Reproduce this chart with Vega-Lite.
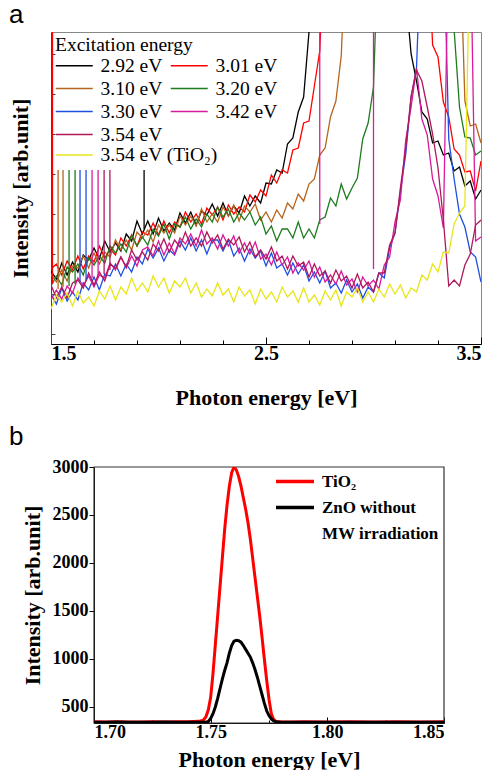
{
"$schema": "https://vega.github.io/schema/vega-lite/v6.json",
"background": "white",
"padding": {"left": 8, "top": 1, "right": 5, "bottom": 0},
"spacing": 15,
"resolve": {"scale": {"x": "independent", "y": "independent", "color": "independent", "stroke": "independent"}, "axis": {"x": "independent", "y": "independent"}, "legend": {"color": "independent", "stroke": "independent"}},
"config": {
  "view": {"stroke": null},
  "font": "Liberation Serif",
  "axis": {"grid": false, "domainColor": "#000", "tickColor": "#000", "labelColor": "#000", "titleColor": "#000", "labelFont": "Liberation Serif", "titleFont": "Liberation Serif", "labelFontWeight": "bold", "titleFontWeight": "bold"},
  "legend": {"labelColor": "#000", "titleColor": "#000"},
  "title": {"font": "Liberation Sans", "fontWeight": "normal", "fontSize": 26, "color": "#000", "anchor": "start", "frame": "group", "baseline": "alphabetic"}
},
"datasets": {
  "spec": [
    {"x":1.5,"k":73,"r":75,"o":70,"g":58,"b":50,"m":44,"c":59,"y":35},
    {"x":1.525,"k":65,"r":80,"o":62,"g":68,"b":40,"m":54,"c":46,"y":49},
    {"x":1.55,"k":81,"r":69,"o":74,"g":59,"b":56,"m":45,"c":57,"y":42},
    {"x":1.575,"k":69,"r":83,"o":63,"g":77,"b":43,"m":58,"c":46,"y":51},
    {"x":1.6,"k":82,"r":74,"o":78,"g":72,"b":52,"m":51,"c":61,"y":38},
    {"x":1.625,"k":72,"r":88,"o":76,"g":80,"b":44,"m":66,"c":64,"y":53},
    {"x":1.65,"k":89,"r":75,"o":88,"g":69,"b":61,"m":58,"c":56,"y":41},
    {"x":1.675,"k":84,"r":88,"o":76,"g":86,"b":54,"m":68,"c":71,"y":47},
    {"x":1.7,"k":96,"r":82,"o":91,"g":79,"b":67,"m":57,"c":59,"y":38},
    {"x":1.725,"k":85,"r":98,"o":80,"g":88,"b":54,"m":69,"c":72,"y":53},
    {"x":1.75,"k":103,"r":86,"o":92,"g":81,"b":70,"m":66,"c":63,"y":45},
    {"x":1.775,"k":92,"r":95,"o":87,"g":98,"b":68,"m":81,"c":80,"y":58},
    {"x":1.8,"k":101,"r":89,"o":104,"g":91,"b":80,"m":74,"c":76,"y":44},
    {"x":1.825,"k":93,"r":106,"o":94,"g":100,"b":68,"m":87,"c":87,"y":57},
    {"x":1.85,"k":110,"r":98,"o":104,"g":92,"b":80,"m":76,"c":77,"y":50},
    {"x":1.875,"k":103,"r":109,"o":94,"g":109,"b":72,"m":88,"c":94,"y":66},
    {"x":1.9,"k":123,"r":98,"o":112,"g":98,"b":87,"m":78,"c":84,"y":53},
    {"x":1.925,"k":110,"r":112,"o":106,"g":107,"b":80,"m":94,"c":92,"y":61},
    {"x":1.95,"k":123,"r":109,"o":114,"g":99,"b":95,"m":97,"c":84,"y":52},
    {"x":1.975,"k":110,"r":121,"o":102,"g":115,"b":86,"m":88,"c":100,"y":68},
    {"x":2.0,"k":126,"r":109,"o":119,"g":108,"b":96,"m":103,"c":93,"y":57},
    {"x":2.025,"k":113,"r":123,"o":111,"g":120,"b":83,"m":89,"c":105,"y":66},
    {"x":2.05,"k":121,"r":111,"o":119,"g":105,"b":94,"m":101,"c":92,"y":51},
    {"x":2.075,"k":114,"r":122,"o":111,"g":120,"b":89,"m":90,"c":104,"y":63},
    {"x":2.1,"k":131,"r":117,"o":128,"g":117,"b":103,"m":106,"c":97,"y":57},
    {"x":2.125,"k":121,"r":132,"o":119,"g":127,"b":94,"m":100,"c":112,"y":66},
    {"x":2.15,"k":132,"r":122,"o":128,"g":115,"b":106,"m":110,"c":98,"y":51},
    {"x":2.175,"k":119,"r":130,"o":118,"g":125,"b":93,"m":98,"c":106,"y":61},
    {"x":2.2,"k":133,"r":120,"o":135,"g":117,"b":104,"m":114,"c":98,"y":47},
    {"x":2.225,"k":129,"r":136,"o":122,"g":130,"b":90,"m":100,"c":112,"y":55},
    {"x":2.25,"k":140,"r":129,"o":130,"g":122,"b":104,"m":106,"c":101,"y":48},
    {"x":2.275,"k":128,"r":137,"o":122,"g":137,"b":104,"m":95,"c":109,"y":61},
    {"x":2.3,"k":141,"r":124,"o":137,"g":127,"b":93,"m":109,"c":95,"y":49},
    {"x":2.325,"k":128,"r":139,"o":128,"g":135,"b":104,"m":98,"c":105,"y":55},
    {"x":2.35,"k":138,"r":130,"o":139,"g":122,"b":88,"m":108,"c":99,"y":42},
    {"x":2.375,"k":131,"r":137,"o":123,"g":131,"b":96,"m":91,"c":107,"y":57},
    {"x":2.4,"k":148,"r":132,"o":138,"g":124,"b":83,"m":101,"c":92,"y":48},
    {"x":2.425,"k":138,"r":149,"o":132,"g":132,"b":95,"m":90,"c":102,"y":54},
    {"x":2.45,"k":148,"r":142,"o":140,"g":119,"b":86,"m":102,"c":87,"y":40},
    {"x":2.475,"k":141,"r":154,"o":124,"g":127,"b":93,"m":85,"c":94,"y":55},
    {"x":2.5,"k":161,"r":148,"o":132,"g":110,"b":78,"m":90,"c":85,"y":45},
    {"x":2.525,"k":160,"r":169,"o":122,"g":118,"b":91,"m":79,"c":97,"y":52},
    {"x":2.55,"k":174,"r":161,"o":134,"g":103,"b":76,"m":92,"c":83,"y":42},
    {"x":2.575,"k":171,"r":174,"o":126,"g":115,"b":80,"m":79,"c":88,"y":57},
    {"x":2.6,"k":200,"r":171,"o":141,"g":115,"b":69,"m":87,"c":75,"y":47},
    {"x":2.625,"k":206,"r":194,"o":135,"g":106,"b":81,"m":71,"c":88,"y":53},
    {"x":2.65,"k":232,"r":196,"o":150,"g":122,"b":70,"m":81,"c":78,"y":42},
    {"x":2.675,"k":247,"r":221,"o":143,"g":106,"b":79,"m":74,"c":82,"y":56},
    {"x":2.7,"k":312,"r":223,"o":160,"g":115,"b":63,"m":83,"c":67,"y":42},
    {"x":2.725,"k":420,"r":258,"o":165,"g":106,"b":72,"m":67,"c":80,"y":49},
    {"x":2.75,"k":420,"r":293,"o":189,"g":124,"b":61,"m":77,"c":68,"y":39},
    {"x":2.775,"k":420,"r":420,"o":196,"g":127,"b":73,"m":62,"c":73,"y":53},
    {"x":2.8,"k":420,"r":420,"o":227,"g":146,"b":56,"m":69,"c":61,"y":44},
    {"x":2.825,"k":420,"r":420,"o":243,"g":138,"b":61,"m":60,"c":74,"y":54},
    {"x":2.85,"k":420,"r":420,"o":288,"g":160,"b":51,"m":73,"c":63,"y":38},
    {"x":2.875,"k":420,"r":420,"o":420,"g":145,"b":64,"m":59,"c":68,"y":52},
    {"x":2.9,"k":420,"r":420,"o":420,"g":156,"b":52,"m":65,"c":56,"y":47},
    {"x":2.925,"k":420,"r":420,"o":420,"g":166,"b":60,"m":52,"c":70,"y":56},
    {"x":2.95,"k":420,"r":420,"o":420,"g":205,"b":46,"m":67,"c":56,"y":42},
    {"x":2.975,"k":420,"r":420,"o":420,"g":221,"b":57,"m":58,"c":62,"y":52},
    {"x":3.0,"k":420,"r":420,"o":420,"g":257,"b":52,"m":64,"c":52,"y":42},
    {"x":3.025,"k":420,"r":420,"o":420,"g":420,"b":71,"m":55,"c":71,"y":55},
    {"x":3.05,"k":420,"r":420,"o":420,"g":420,"b":66,"m":79,"c":71,"y":47},
    {"x":3.075,"k":420,"r":420,"o":420,"g":420,"b":96,"m":87,"c":99,"y":60},
    {"x":3.1,"k":420,"r":420,"o":420,"g":420,"b":111,"m":122,"c":111,"y":50},
    {"x":3.125,"k":420,"r":420,"o":420,"g":420,"b":152,"m":144,"c":156,"y":59},
    {"x":3.15,"k":350,"r":420,"o":420,"g":420,"b":190,"m":204,"c":196,"y":46},
    {"x":3.175,"k":290,"r":420,"o":420,"g":420,"b":247,"m":237,"c":248,"y":56},
    {"x":3.2,"k":263,"r":420,"o":420,"g":420,"b":276,"m":276,"c":274,"y":52},
    {"x":3.225,"k":232,"r":420,"o":420,"g":420,"b":420,"m":225,"c":263,"y":69},
    {"x":3.25,"k":225,"r":420,"o":420,"g":420,"b":420,"m":209,"c":237,"y":64},
    {"x":3.275,"k":201,"r":299,"o":420,"g":420,"b":420,"m":165,"c":210,"y":80},
    {"x":3.3,"k":203,"r":287,"o":420,"g":420,"b":420,"m":148,"c":176,"y":72},
    {"x":3.325,"k":189,"r":242,"o":420,"g":420,"b":420,"m":116,"c":124,"y":92},
    {"x":3.35,"k":191,"r":227,"o":420,"g":420,"b":205,"m":420,"c":58,"y":91},
    {"x":3.375,"k":173,"r":195,"o":420,"g":314,"b":165,"m":420,"c":64,"y":120},
    {"x":3.4,"k":177,"r":189,"o":420,"g":237,"b":130,"m":420,"c":58,"y":131},
    {"x":3.425,"k":158,"r":172,"o":243,"g":207,"b":117,"m":420,"c":79,"y":138},
    {"x":3.45,"k":163,"r":173,"o":218,"g":206,"b":92,"m":420,"c":90,"y":420},
    {"x":3.475,"k":145,"r":153,"o":220,"g":189,"b":87,"m":103,"c":119,"y":420},
    {"x":3.5,"k":154,"r":183,"o":201,"g":193,"b":62,"m":107,"c":124,"y":420}
  ],
  "sp": [
    {"s":"r","x":1.507,"lo":60,"hi":312},
    {"s":"o","x":1.533,"lo":55,"hi":174},
    {"s":"o","x":1.556,"lo":57,"hi":174},
    {"s":"g","x":1.584,"lo":58,"hi":174},
    {"s":"g","x":1.612,"lo":60,"hi":174},
    {"s":"b","x":1.635,"lo":62,"hi":174},
    {"s":"b","x":1.663,"lo":64,"hi":174},
    {"s":"m","x":1.691,"lo":66,"hi":174},
    {"s":"m","x":1.719,"lo":68,"hi":174},
    {"s":"c","x":1.747,"lo":70,"hi":174},
    {"s":"c","x":1.774,"lo":74,"hi":174},
    {"s":"k","x":1.933,"lo":115,"hi":174},
    {"s":"m","x":2.75,"lo":120,"hi":312},
    {"s":"m","x":3.0,"lo":75,"hi":312}
  ],
  "pb": [
    {"x":1.7,"t":345,"z":342},{"x":1.705,"t":344,"z":341},{"x":1.71,"t":346,"z":343},{"x":1.715,"t":344,"z":342},
    {"x":1.72,"t":343,"z":341},{"x":1.725,"t":345,"z":342},{"x":1.73,"t":344,"z":343},{"x":1.735,"t":346,"z":341},
    {"x":1.74,"t":346,"z":340},{"x":1.745,"t":350,"z":341},{"x":1.746,"t":356,"z":341},{"x":1.747,"t":365,"z":341},
    {"x":1.748,"t":400,"z":342},{"x":1.749,"t":470,"z":350},{"x":1.75,"t":600,"z":380},{"x":1.751,"t":850,"z":430},
    {"x":1.752,"t":1150,"z":500},{"x":1.753,"t":1450,"z":590},{"x":1.754,"t":1750,"z":690},{"x":1.755,"t":2050,"z":790},
    {"x":1.756,"t":2350,"z":880},{"x":1.757,"t":2600,"z":960},{"x":1.758,"t":2800,"z":1060},{"x":1.759,"t":2940,"z":1140},
    {"x":1.76,"t":3000,"z":1185},{"x":1.761,"t":2970,"z":1195},{"x":1.762,"t":2900,"z":1190},{"x":1.763,"t":2800,"z":1175},
    {"x":1.764,"t":2680,"z":1140},{"x":1.765,"t":2560,"z":1100},{"x":1.766,"t":2420,"z":1060},{"x":1.767,"t":2250,"z":1020},
    {"x":1.768,"t":2050,"z":960},{"x":1.769,"t":1850,"z":890},{"x":1.77,"t":1650,"z":810},{"x":1.771,"t":1450,"z":720},
    {"x":1.772,"t":1230,"z":630},{"x":1.773,"t":1000,"z":540},{"x":1.774,"t":780,"z":460},{"x":1.775,"t":580,"z":410},
    {"x":1.776,"t":430,"z":375},{"x":1.777,"t":370,"z":355},{"x":1.778,"t":350,"z":346},{"x":1.78,"t":345,"z":342},
    {"x":1.785,"t":344,"z":341},{"x":1.79,"t":345,"z":342},{"x":1.8,"t":344,"z":341},{"x":1.81,"t":345,"z":342},
    {"x":1.82,"t":344,"z":341},{"x":1.83,"t":345,"z":342},{"x":1.84,"t":344,"z":341},{"x":1.85,"t":345,"z":342}
  ]
},
"vconcat": [
  {
    "title": {"text": "a", "dx": -42, "offset": 4},
    "width": 430, "height": 312,
    "view": {"stroke": "#888"},
    "layer": [
      {
        "data": {"name": "spec"},
        "transform": [{"fold": ["k","r","o","g","b","m","c"], "as": ["s","v"]}],
        "mark": {"type": "line", "clip": true, "strokeWidth": 1.3},
        "encoding": {
          "x": {"field": "x", "type": "quantitative", "scale": {"domain": [1.5, 3.5], "nice": false, "zero": false},
            "axis": {"values": [1.5,1.6,1.7,1.8,1.9,2.0,2.1,2.2,2.3,2.4,2.5,2.6,2.7,2.8,2.9,3.0,3.1,3.2,3.3,3.4,3.5],
              "labelExpr": "abs(datum.value*2-round(datum.value*2))<0.001 ? format(datum.value,'.1f') : ''",
              "tickSize": {"condition": {"test": "abs(datum.value*2-round(datum.value*2))<0.001", "value": -7}, "value": -4},
              "labelFontSize": 20, "labelPadding": 6, "title": "Photon energy [eV]", "titleFontSize": 22, "titlePadding": 24}},
          "y": {"field": "v", "type": "quantitative", "scale": {"domain": [0, 312], "nice": false, "zero": false},
            "axis": {"values": [10,20,30,40,50,60,70,80,90,100,110,120,130,140,150,160,170,180,190,200,210,220,230,240,250,260,270,280,290,300,310],
              "labels": false, "tickSize": -4, "domainColor": "#444", "tickColor": "#444",
              "title": "Intensity [arb.unit]", "titleFontSize": 22, "titlePadding": 18}},
          "color": {"field": "s", "type": "nominal",
            "scale": {"domain": ["k","o","b","c","r","g","m"],
              "range": ["#000000","#b5651d","#1f4fe0","#b0185a","#ff0000","#1e7b1e","#d81b9c"]},
            "legend": {"title": "Excitation energy", "orient": "top-left", "offset": 4, "columns": 2,
              "symbolType": "M-1,0L3,0", "symbolSize": 342, "symbolStrokeWidth": 1.5,
              "labelFont": "Liberation Serif", "labelFontSize": 19.5, "labelFontWeight": "normal",
              "titleFont": "Liberation Serif", "titleFontSize": 19.5, "titleFontWeight": "normal",
              "labelOffset": 25.5, "columnPadding": 4, "rowPadding": 3, "titlePadding": 0, "labelLimit": 300,
              "labelExpr": "datum.label=='k'?'2.92 eV':datum.label=='r'?'3.01 eV':datum.label=='o'?'3.10 eV':datum.label=='g'?'3.20 eV':datum.label=='b'?'3.30 eV':datum.label=='m'?'3.42 eV':datum.label=='c'?'3.54 eV':''"}}
        }
      },
      {
        "data": {"name": "spec"},
        "transform": [{"fold": ["y"], "as": ["s","v"]}],
        "mark": {"type": "line", "clip": true, "strokeWidth": 1.3},
        "encoding": {
          "x": {"field": "x", "type": "quantitative"},
          "y": {"field": "v", "type": "quantitative"},
          "stroke": {"field": "s", "type": "nominal",
            "scale": {"domain": ["y"], "range": ["#e6e619"]},
            "legend": {"title": null, "orient": "none", "legendX": 4, "legendY": 113,
              "symbolType": "M-1,0L3,0", "symbolSize": 342, "symbolStrokeWidth": 1.5,
              "labelFont": "Liberation Serif", "labelFontSize": 19.5, "labelFontWeight": "normal",
              "labelOffset": 25.5, "labelLimit": 300,
              "labelExpr": "'3.54 eV (TiO₂)'"}}
        }
      },
      {
        "data": {"name": "sp"},
        "mark": {"type": "rule", "clip": true, "strokeWidth": 1.3},
        "encoding": {
          "x": {"field": "x", "type": "quantitative"},
          "y": {"field": "lo", "type": "quantitative"},
          "y2": {"field": "hi"},
          "color": {"field": "s", "type": "nominal", "legend": null}
        }
      }
    ]
  },
  {
    "title": {"text": "b", "dx": -42, "offset": 8},
    "width": 393, "height": 256,
    "layer": [
      {
        "data": {"values": [{}]},
        "mark": {"type": "rect", "fill": null, "stroke": "#333", "strokeWidth": 1.2},
        "encoding": {
          "x": {"datum": 1.7, "type": "quantitative"}, "x2": {"datum": 1.85},
          "y": {"datum": 333, "type": "quantitative"}, "y2": {"datum": 3000}
        }
      },
      {
        "data": {"name": "pb"},
        "transform": [{"fold": ["t","z"], "as": ["s","v"]}],
        "mark": {"type": "line", "clip": true, "strokeWidth": 3},
        "encoding": {
          "x": {"field": "x", "type": "quantitative", "scale": {"domain": [1.7, 1.85], "range": [43, 393], "nice": false, "zero": false},
            "axis": {"values": [1.7,1.725,1.75,1.775,1.8,1.825,1.85],
              "labelExpr": "abs(datum.value*20-round(datum.value*20))<0.001 ? format(datum.value,'.2f') : ''",
              "tickSize": {"condition": {"test": "abs(datum.value*20-round(datum.value*20))<0.001", "value": -6}, "value": -3},
              "labelFontSize": 18, "labelPadding": 6, "title": "Photon energy [eV]", "titleFontSize": 22, "titlePadding": 8}},
          "y": {"field": "v", "type": "quantitative", "scale": {"domain": [333, 3000], "nice": false, "zero": false},
            "axis": {"values": [500,750,1000,1250,1500,1750,2000,2250,2500,2750,3000], "offset": -43,
              "labelExpr": "datum.value % 500 == 0 ? datum.value : ''",
              "tickSize": {"condition": {"test": "datum.value % 500 == 0", "value": 5}, "value": 3},
              "labelFontSize": 18, "labelPadding": 1, "title": "Intensity [arb.unit]", "titleFontSize": 22, "titlePadding": 8}},
          "color": {"field": "s", "type": "nominal",
            "scale": {"domain": ["t","z","w"], "range": ["#ff0000","#000000","transparent"]},
            "legend": {"title": null, "orient": "none", "legendX": 223, "legendY": 3, "symbolType": "M-1,0L3,0", "symbolSize": 361, "symbolStrokeWidth": 3.5,
              "labelFont": "Liberation Serif", "labelFontWeight": "bold", "labelFontSize": 17, "labelOffset": 25, "rowPadding": 6,
              "labelExpr": "datum.label=='t'?'TiO₂':datum.label=='z'?'ZnO without':'MW irradiation'"}}
        }
      }
    ]
  }
]
}
